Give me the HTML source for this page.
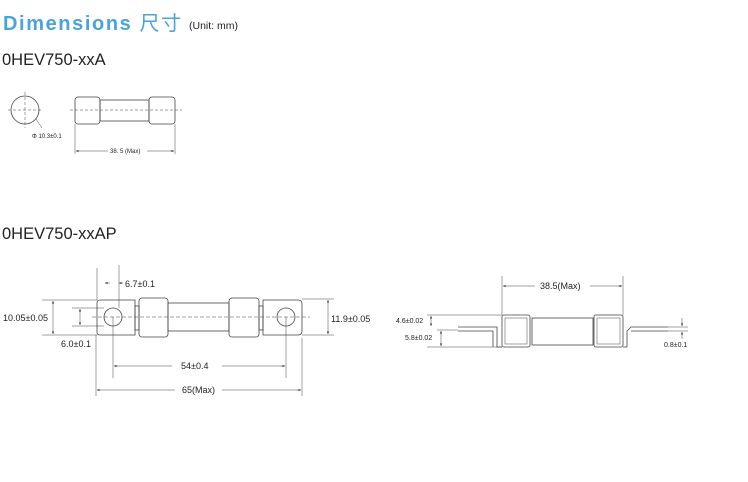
<!DOCTYPE html>
<html><head><meta charset="utf-8"><style>
body{margin:0;background:#fff;width:748px;height:482px;overflow:hidden}
svg{display:block}
text{font-family:"Liberation Sans","Noto Sans CJK SC",sans-serif}
</style></head><body>
<svg width="748" height="482" viewBox="0 0 748 482" xmlns="http://www.w3.org/2000/svg">
<defs>
<marker id="a" markerWidth="6" markerHeight="6" refX="5" refY="3" orient="auto-start-reverse"><path d="M0,1 L5,3 L0,5z" fill="#222"/></marker>
</defs>
<text x="3" y="30" font-size="20" font-weight="bold" fill="#4ba3d9" letter-spacing="1.6">Dimensions <tspan font-family="Noto Sans CJK SC,sans-serif" font-weight="normal">尺寸</tspan></text>
<text x="189" y="29" font-size="10.5" fill="#222">(Unit: mm)</text>
<text x="2" y="65" font-size="16.5" fill="#222">0HEV750-xxA</text>
<text x="2" y="239" font-size="16.5" fill="#222">0HEV750-xxAP</text>

<g stroke="#444" fill="none" stroke-width="0.8">
<circle cx="25" cy="110" r="14"/>
<line x1="8" y1="110" x2="42" y2="110" stroke-dasharray="3,2" stroke-width="0.5"/>
<line x1="25" y1="92" x2="25" y2="128" stroke-dasharray="3,2" stroke-width="0.5"/>
<line x1="36" y1="119" x2="42" y2="128" stroke-width="0.5"/>
<rect x="75" y="97" width="25" height="27" rx="3"/>
<rect x="100" y="100" width="49" height="21"/>
<rect x="149" y="97" width="26" height="27" rx="3"/>
<line x1="70" y1="110" x2="182" y2="110" stroke-dasharray="3,2" stroke-width="0.5"/>
<line x1="75" y1="124" x2="75" y2="154" stroke-width="0.5"/>
<line x1="175" y1="124" x2="175" y2="154" stroke-width="0.5"/>
<line x1="76" y1="151" x2="108" y2="151" stroke-width="0.5" marker-start="url(#a)"/>
<line x1="147" y1="151" x2="174" y2="151" stroke-width="0.5" marker-end="url(#a)"/>

<path d="M97,303 Q97,300 100,300 L135,300 L135,335 L100,335 Q97,335 97,332 Z"/>
<circle cx="113" cy="317" r="9"/>
<rect x="135" y="306" width="4" height="24"/>
<rect x="139" y="298" width="29" height="39" rx="3"/>
<rect x="168" y="303" width="61" height="28"/>
<rect x="229" y="298" width="30" height="39" rx="3"/>
<rect x="259" y="306" width="4" height="24"/>
<path d="M263,300 L298,300 Q302,300 302,304 L302,331 Q302,335 298,335 L263,335 Z"/>
<circle cx="286" cy="317" r="9"/>
<line x1="92" y1="317" x2="310" y2="317" stroke-dasharray="4,2" stroke-width="0.5"/>
<g stroke-width="0.5">
<line x1="97" y1="268" x2="97" y2="300"/>
<line x1="119" y1="265" x2="119" y2="308"/>
<line x1="105" y1="283" x2="110" y2="283" marker-start="url(#a)"/>
<line x1="119" y1="283" x2="123" y2="283" marker-start="url(#a)"/>
<line x1="42" y1="300" x2="97" y2="300"/>
<line x1="42" y1="335" x2="97" y2="335"/>
<line x1="53" y1="301" x2="53" y2="334" marker-start="url(#a)" marker-end="url(#a)"/>
<line x1="72" y1="308" x2="104" y2="308"/>
<line x1="72" y1="326" x2="104" y2="326"/>
<line x1="80" y1="309" x2="80" y2="325" marker-start="url(#a)" marker-end="url(#a)"/>
<line x1="302" y1="299" x2="334" y2="299"/>
<line x1="302" y1="335" x2="334" y2="335"/>
<line x1="328" y1="300" x2="328" y2="334" marker-start="url(#a)" marker-end="url(#a)"/>
<line x1="113" y1="317" x2="113" y2="378"/>
<line x1="286" y1="317" x2="286" y2="378"/>
<line x1="114" y1="366" x2="172" y2="366" marker-start="url(#a)"/>
<line x1="222" y1="366" x2="285" y2="366" marker-end="url(#a)"/>
<line x1="96" y1="335" x2="96" y2="396"/>
<line x1="302" y1="338" x2="302" y2="396"/>
<line x1="97" y1="390" x2="175" y2="390" marker-start="url(#a)"/>
<line x1="222" y1="390" x2="301" y2="390" marker-end="url(#a)"/>
</g>

<rect x="502" y="315" width="28" height="32" rx="2"/>
<rect x="505" y="318" width="22" height="26" stroke-width="0.5"/>
<rect x="532" y="318" width="61" height="27"/>
<rect x="594" y="315" width="29" height="32" rx="2"/>
<rect x="597" y="318" width="23" height="26" stroke-width="0.5"/>
<path d="M458,327 L497,327 L497,347 L502,347 M458,331 L493,331 L493,347"/>
<path d="M668,327 L631,327 L627,331 L627,347 L623,347 M668,331 L631,331"/>
<g stroke-width="0.5">
<line x1="502" y1="276" x2="502" y2="315"/>
<line x1="623" y1="276" x2="623" y2="315"/>
<line x1="503" y1="286" x2="535" y2="286" marker-start="url(#a)"/>
<line x1="590" y1="286" x2="622" y2="286" marker-end="url(#a)"/>
<line x1="427" y1="315" x2="502" y2="315"/>
<line x1="437" y1="330" x2="458" y2="330"/>
<line x1="427" y1="347" x2="502" y2="347"/>
<line x1="431" y1="316" x2="431" y2="326" marker-start="url(#a)" marker-end="url(#a)"/>
<line x1="441" y1="331" x2="441" y2="346" marker-start="url(#a)" marker-end="url(#a)"/>
<line x1="668" y1="327" x2="688" y2="327"/>
<line x1="668" y1="331" x2="688" y2="331"/>
<line x1="682" y1="318" x2="682" y2="326" marker-end="url(#a)"/>
<line x1="682" y1="339" x2="682" y2="332" marker-end="url(#a)"/>
</g>
</g>

<g fill="#222">
<text x="32" y="138" font-size="6">Φ 10.3±0.1</text>
<text x="110" y="153" font-size="6">38. 5 (Max)</text>
<text x="125" y="287" font-size="9">6.7±0.1</text>
<text x="3" y="321" font-size="9">10.05±0.05</text>
<text x="61" y="347" font-size="9">6.0±0.1</text>
<text x="331" y="322" font-size="9">11.9±0.05</text>
<text x="181" y="369" font-size="9">54±0.4</text>
<text x="182" y="393" font-size="9">65(Max)</text>
<text x="540" y="289" font-size="9">38.5(Max)</text>
<text x="396" y="323" font-size="7">4.6±0.02</text>
<text x="405" y="340" font-size="7">5.8±0.02</text>
<text x="664" y="347" font-size="7">0.8±0.1</text>
</g>
</svg>
</body></html>
